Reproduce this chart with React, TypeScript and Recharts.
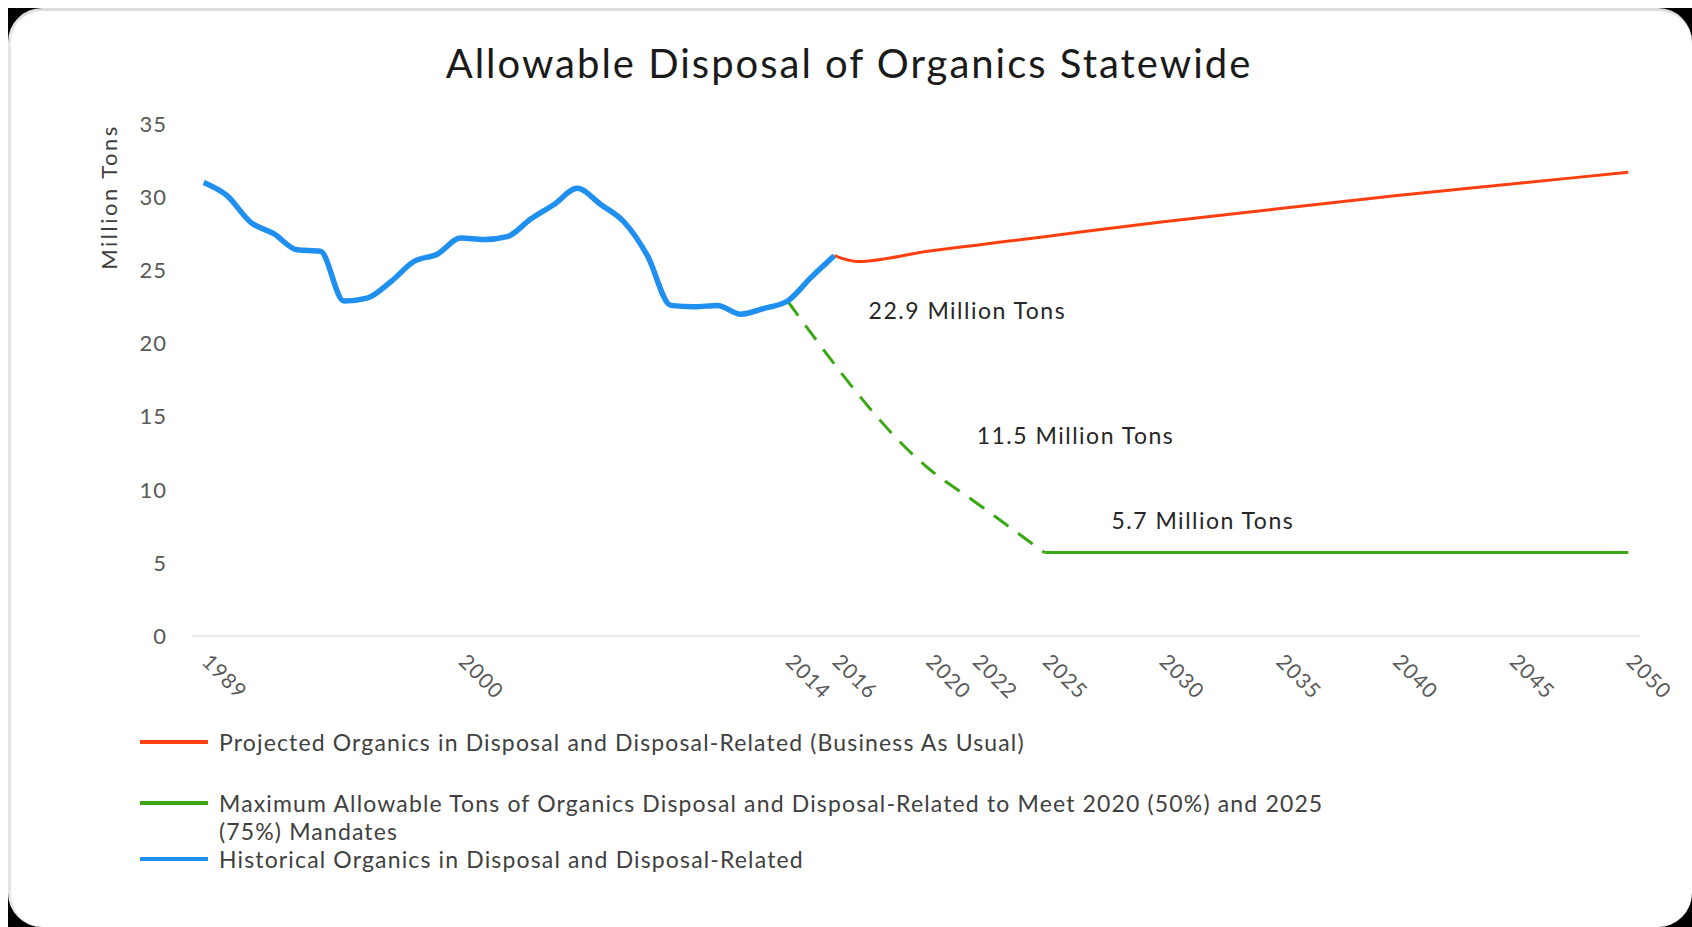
import React from "react";
import { LineChart, Line, XAxis, YAxis, ReferenceDot } from "recharts";

// historical organics, 1989-2016 (million tons)
const histYears = [
  1989, 1990, 1991, 1992, 1993, 1994, 1995, 1996, 1997, 1998, 1999, 2000, 2001, 2002,
  2003, 2004, 2005, 2006, 2007, 2008, 2009, 2010, 2011, 2012, 2013, 2014, 2015, 2016,
];
const histValues = [
  31.0, 30.1, 28.3, 27.5, 26.4, 26.3, 22.9, 23.1, 24.2, 25.6, 26.1, 27.2, 27.1, 27.3,
  28.5, 29.5, 30.6, 29.5, 28.3, 26.0, 22.6, 22.5, 22.6, 22.0, 22.4, 22.9, 24.5, 26.0,
];

// business as usual projection
const projYears = [2016, 2017, 2020, 2022, 2025, 2030, 2035, 2040, 2045, 2050];
const projValues = [26.0, 25.6, 26.3, 26.7, 27.3, 28.3, 29.2, 30.1, 30.9, 31.7];

// mandate path (dashed) and the flat cap after 2025
const mandateYears = [2014, 2020, 2022, 2025];
const mandateValues = [22.9, 11.5, 9.2, 5.7];
const capYears = [2025, 2030, 2035, 2040, 2045, 2050];
const capValues = [5.7, 5.7, 5.7, 5.7, 5.7, 5.7];

const xTicks = [1989, 2000, 2014, 2016, 2020, 2022, 2025, 2030, 2035, 2040, 2045, 2050];
const yTicks = [0, 5, 10, 15, 20, 25, 30, 35];

const calloutYears = [2014, 2020, 2025];
const calloutValues = [22.9, 11.5, 5.7];
const calloutTexts = ["22.9 Million Tons", "11.5 Million Tons", "5.7 Million Tons"];

const names = {
  proj: "Projected Organics in Disposal and Disposal-Related (Business As Usual)",
  mandate:
    "Maximum Allowable Tons of Organics Disposal and Disposal-Related to Meet 2020 (50%) and 2025 (75%) Mandates",
  hist: "Historical Organics in Disposal and Disposal-Related",
};

const toRows = (years: number[], values: number[]) =>
  years.map((year, i) => ({ year, value: values[i] }));

const histData = toRows(histYears, histValues);
const projData = toRows(projYears, projValues);
const mandateData = toRows(mandateYears, mandateValues);
const capData = toRows(capYears, capValues);

const BLUE = "#1f8ff0";
const ORANGE = "#ff3f0f";
const GREEN = "#3aa814";
const FONT = "Lato, 'Open Sans', sans-serif";

const W = 1684;
const H = 919;

const XTick = (props: any) => {
  const { x, y, payload } = props;
  const ax = x - 3;
  const ay = y + 27;
  return (
    <text
      x={ax}
      y={ay}
      transform={`rotate(45, ${ax}, ${ay})`}
      textAnchor="start"
      fill="#595959"
      fontSize={21}
      letterSpacing={1}
      fontFamily={FONT}
    >
      {payload.value}
    </text>
  );
};

// offsets for the hand-placed excel data labels
const calloutOffsets = [
  { dx: 81, dy: 9 },
  { dx: 49, dy: -33 },
  { dx: 67, dy: -33 },
];

const legendItems = [
  { name: names.proj, color: ORANGE, gap: 33 },
  { name: names.mandate, color: GREEN, gap: 0 },
  { name: names.hist, color: BLUE, gap: 0 },
];

export default function App() {
  return (
    <div
      style={{
        position: "absolute",
        left: 8,
        top: 8,
        width: W,
        height: H,
        background: "#000",
        fontFamily: FONT,
      }}
    >
      <div
        style={{
          position: "absolute",
          inset: 0,
          background: "#fff",
          borderRadius: 34,
          borderTop: "3px solid #dcdcdc",
          borderLeft: "3px solid #e6e6e6",
          boxSizing: "border-box",
        }}
      />
      <div
        style={{
          position: "absolute",
          left: 0,
          width: 1682,
          top: 35,
          lineHeight: "40px",
          textAlign: "center",
          fontSize: 40,
          letterSpacing: 2,
          color: "#1a1a1a",
        }}
      >
        Allowable Disposal of Organics Statewide
      </div>

      <div style={{ position: "absolute", left: 0, top: 0 }}>
        <LineChart
          width={W}
          height={H}
          margin={{ top: 116, right: 52, bottom: 231, left: 0 }}
        >
          <XAxis
            dataKey="year"
            type="number"
            domain={[1988.5, 2050.5]}
            ticks={xTicks}
            interval={0}
            allowDuplicatedCategory={false}
            height={60}
            tickSize={0}
            tickMargin={0}
            tickLine={false}
            axisLine={{ stroke: "#e3e3e3", strokeWidth: 1.5 }}
            tick={<XTick />}
          />
          <YAxis
            type="number"
            domain={[0, 35]}
            ticks={yTicks}
            interval={0}
            width={184}
            tickSize={0}
            tickMargin={25}
            axisLine={false}
            tickLine={false}
            tick={{ fill: "#595959", fontSize: 22, letterSpacing: 1, fontFamily: FONT }}
            label={({ viewBox }: any) => {
              const cx = 100;
              const cy = viewBox.y + 73;
              return (
                <text
                  x={cx}
                  y={cy}
                  transform={`rotate(-90, ${cx}, ${cy})`}
                  textAnchor="middle"
                  dominantBaseline="central"
                  fill="#404040"
                  fontSize={22}
                  letterSpacing={2.5}
                  fontFamily={FONT}
                >
                  Million Tons
                </text>
              );
            }}
          />
          <Line
            data={projData}
            dataKey="value"
            name={names.proj}
            type="monotone"
            stroke={ORANGE}
            strokeWidth={3}
            dot={false}
            activeDot={false}
            isAnimationActive={false}
          />
          <Line
            data={capData}
            dataKey="value"
            name={names.mandate}
            type="monotone"
            stroke={GREEN}
            strokeWidth={3}
            dot={false}
            activeDot={false}
            isAnimationActive={false}
          />
          <Line
            data={mandateData}
            dataKey="value"
            name="mandate-path"
            type="monotone"
            stroke={GREEN}
            strokeWidth={3}
            strokeDasharray="18 12"
            dot={false}
            activeDot={false}
            isAnimationActive={false}
          />
          <Line
            data={histData}
            dataKey="value"
            name={names.hist}
            type="monotone"
            stroke={BLUE}
            strokeWidth={5.5}
            dot={false}
            activeDot={false}
            isAnimationActive={false}
          />
          {calloutYears.map((year, i) => (
            <ReferenceDot
              key={year}
              x={year}
              y={calloutValues[i]}
              r={0}
              fill="none"
              stroke="none"
              label={({ viewBox }: any) => (
                <text
                  x={viewBox.x + calloutOffsets[i].dx}
                  y={viewBox.y + calloutOffsets[i].dy}
                  dominantBaseline="central"
                  fill="#262626"
                  fontSize={23}
                  letterSpacing={1.5}
                  fontFamily={FONT}
                >
                  {calloutTexts[i]}
                </text>
              )}
            />
          ))}
        </LineChart>
      </div>

      <div
        style={{
          position: "absolute",
          left: 132,
          top: 720,
          width: 1220,
          color: "#404040",
          fontSize: 23,
          letterSpacing: 1.15,
          lineHeight: "28px",
        }}
      >
        {legendItems.map((item) => (
          <div
            key={item.name}
            style={{ display: "flex", alignItems: "flex-start", marginBottom: item.gap }}
          >
            <div
              style={{
                width: 68,
                height: 4,
                background: item.color,
                marginTop: 12,
                marginRight: 11,
                flex: "none",
              }}
            />
            <div>{item.name}</div>
          </div>
        ))}
      </div>
    </div>
  );
}
